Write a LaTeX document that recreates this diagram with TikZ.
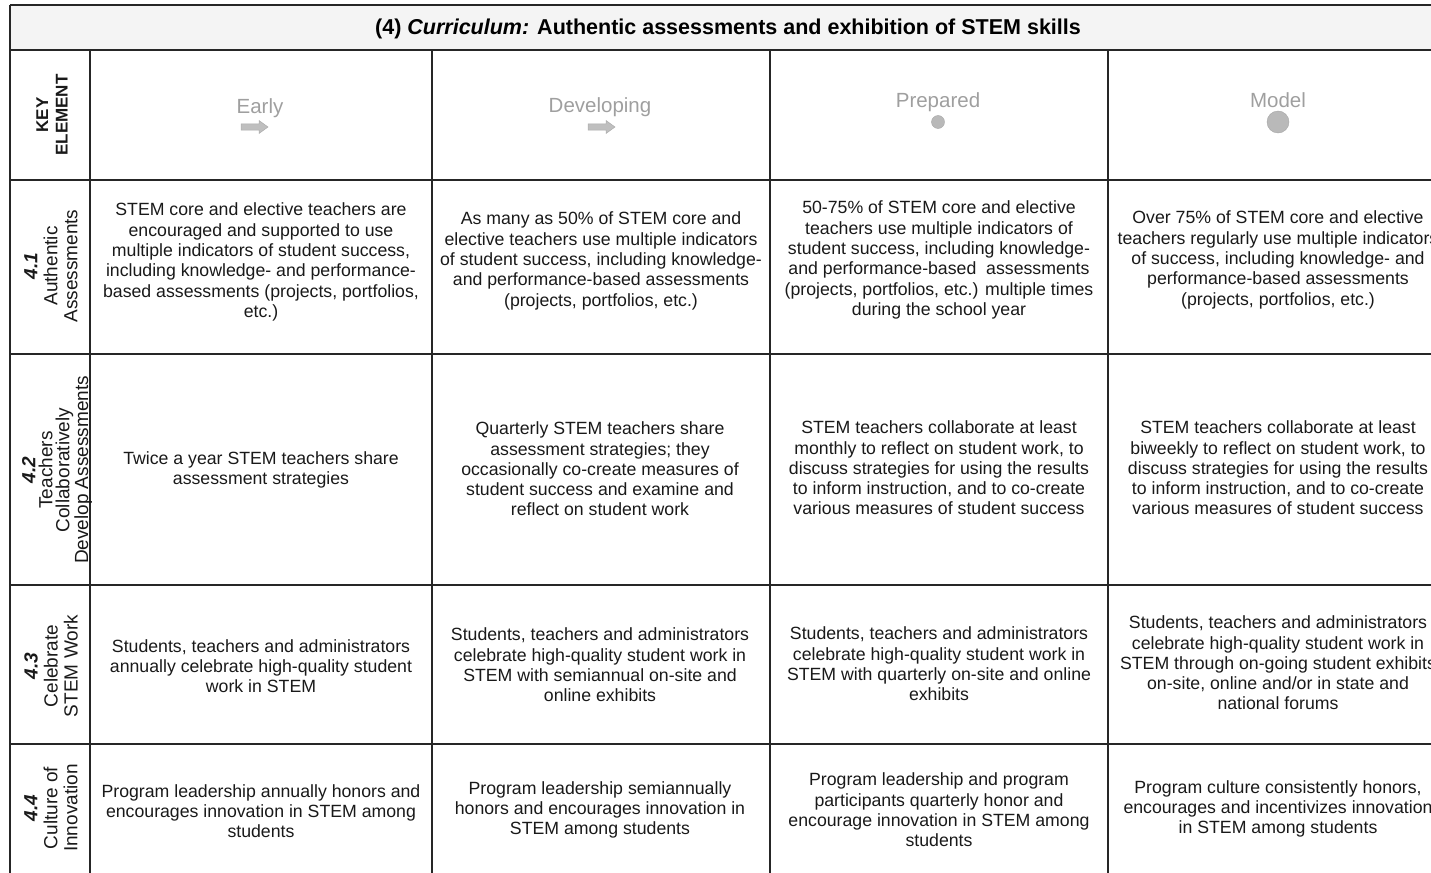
\documentclass[tikz,border=0pt]{standalone}
\usepackage{fontspec}
\setmainfont{Liberation Sans}
\tikzset{
  grid/.style={line width=1.4pt, draw=black!85},
  cell/.style={align=center, inner sep=0pt, font=\fontsize{17.7}{20.3}\selectfont, text=black!90},
  rowlab/.style={align=center, inner sep=0pt, rotate=90, font=\fontsize{19}{20}\selectfont, text=black!90},
  lev/.style={inner sep=0pt, text=gray!75, font=\fontsize{20.5}{22}\selectfont},
  levarrow/.style={fill=gray!50, draw=gray!65, line width=0.5pt},
  levdot/.style={circle, fill=gray!55, draw=gray!70, line width=0.4pt, inner sep=0pt},
}
\begin{document}
\begin{tikzpicture}[x=1pt,y=-1pt]
\useasboundingbox (0,0) rectangle (1431,872);
\clip (0,0) rectangle (1431,872);
% title bar
\fill[gray!9] (10,5) rectangle (1460,50);
\draw[grid] (10,5) -- (1460,5);
\draw[grid] (10,5) -- (10,900);
\node[inner sep=0pt, font=\bfseries\fontsize{21.5}{24}\selectfont] (title) at (728,29) {(4) \textit{Curriculum:} Authentic assessments and exhibition of STEM skills};
% grid lines
\foreach \y in {50,180,354,585,744} \draw[grid] (10,\y) -- (1460,\y);
\foreach \x in {90,432,770,1108} \draw[grid] (\x,50) -- (\x,900);
% header row
\node[rowlab, font=\bfseries\fontsize{17}{19.5}\selectfont] (key) at (52,115) {KEY\\ELEMENT};
\node[lev] (early) at (260,108) {Early};
\coordinate (earlyarr) at (254,127);
\draw[levarrow] ([shift={(-13,-3)}]earlyarr) -- ++(18,0) -- ++(0,-3.5) -- ++(9,6.5) -- ++(-9,6.5) -- ++(0,-3.5) -- ++(-18,0) -- cycle;
\node[lev] (dev) at (600,107) {Developing};
\coordinate (devarr) at (601,127);
\draw[levarrow] ([shift={(-13,-3)}]devarr) -- ++(18,0) -- ++(0,-3.5) -- ++(9,6.5) -- ++(-9,6.5) -- ++(0,-3.5) -- ++(-18,0) -- cycle;
\node[lev] (prep) at (938,102) {Prepared};
\node[levdot, minimum size=13pt] (prepdot) at (938,122) {};
\node[lev] (model) at (1278,100) {Model};
\node[levdot, minimum size=22pt] (modeldot) at (1278,122) {};
% row labels
\node[rowlab] (l41) at (51,266) {\textbf{\textit{4.1}}\\Authentic\\Assessments};
\node[rowlab, font=\fontsize{19}{17}\selectfont] (l42) at (57,470) {\textbf{\textit{4.2}}\\Teachers\\Collaboratively\\Develop Assessments};
\node[rowlab] (l43) at (51,666) {\textbf{\textit{4.3}}\\Celebrate\\STEM Work};
\node[rowlab] (l44) at (51,808) {\textbf{\textit{4.4}}\\Culture of\\Innovation};
% row 4.1
\node[cell] (a1) at (261,262) {STEM core and elective teachers are\\encouraged and supported to use\\multiple indicators of student success,\\including knowledge- and performance-\\based assessments (projects, portfolios,\\etc.)};
\node[cell] (a2) at (601,261) {As many as 50\% of STEM core and\\elective teachers use multiple indicators\\of student success, including knowledge-\\and performance-based assessments\\(projects, portfolios, etc.)};
\node[cell] (a3) at (939,260) {50-75\% of STEM core and elective\\teachers use multiple indicators of\\student success, including knowledge-\\and performance-based\ \ assessments\\(projects, portfolios, etc.) multiple times\\during the school year};
\node[cell] (a4) at (1278,260) {Over 75\% of STEM core and elective\\teachers regularly use multiple indicators\\of success, including knowledge- and\\performance-based assessments\\(projects, portfolios, etc.)};
% row 4.2
\node[cell] (b1) at (261,470) {Twice a year STEM teachers share\\assessment strategies};
\node[cell] (b2) at (600,469) {Quarterly STEM teachers share\\assessment strategies; they\\occasionally co-create measures of\\student success and examine and\\reflect on student work};
\node[cell] (b3) at (939,468) {STEM teachers collaborate at least\\monthly to reflect on student work, to\\discuss strategies for using the results\\to inform instruction, and to co-create\\various measures of student success};
\node[cell] (b4) at (1278,468) {STEM teachers collaborate at least\\biweekly to reflect on student work, to\\discuss strategies for using the results\\to inform instruction, and to co-create\\various measures of student success};
% row 4.3
\node[cell] (c1) at (261,666) {Students, teachers and administrators\\annually celebrate high-quality student\\work in STEM};
\node[cell] (c2) at (600,665) {Students, teachers and administrators\\celebrate high-quality student work in\\STEM with semiannual on-site and\\online exhibits};
\node[cell] (c3) at (939,664) {Students, teachers and administrators\\celebrate high-quality student work in\\STEM with quarterly on-site and online\\exhibits};
\node[cell] (c4) at (1278,663) {Students, teachers and administrators\\celebrate high-quality student work in\\STEM through on-going student exhibits\\on-site, online and/or in state and\\national forums};
% row 4.4
\node[cell] (d1) at (261,811) {Program leadership annually honors and\\encourages innovation in STEM among\\students};
\node[cell] (d2) at (600,810) {Program leadership semiannually\\honors and encourages innovation in\\STEM among students};
\node[cell] (d3) at (939,810) {Program leadership and program\\participants quarterly honor and\\encourage innovation in STEM among\\students};
\node[cell] (d4) at (1278,809) {Program culture consistently honors,\\encourages and incentivizes innovation\\in STEM among students};
\end{tikzpicture}
\end{document}
